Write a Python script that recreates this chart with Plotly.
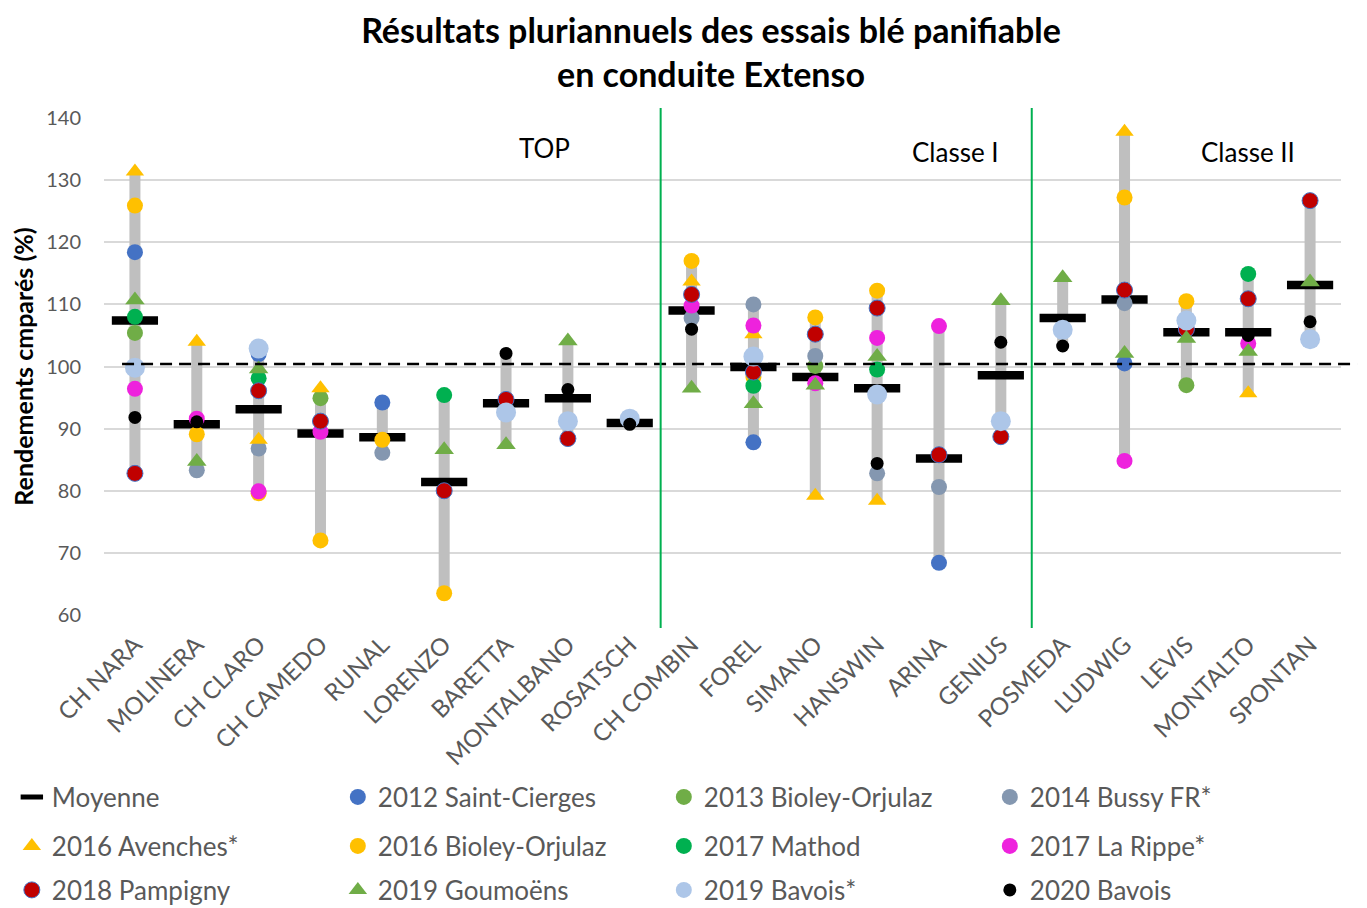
import plotly.graph_objects as go

# ---------------- DATA ----------------
categories = ["CH NARA", "MOLINERA", "CH CLARO", "CH CAMEDO", "RUNAL", "LORENZO",
              "BARETTA", "MONTALBANO", "ROSATSCH", "CH COMBIN", "FOREL", "SIMANO",
              "HANSWIN", "ARINA", "GENIUS", "POSMEDA", "LUDWIG", "LEVIS", "MONTALTO",
              "SPONTAN"]
N = None
moyenne = [107.4, 90.7, 93.1, 89.2, 88.6, 81.4, 94.1, 94.9, 90.9, 109.0,
           99.9, 98.3, 96.5, 85.2, 98.6, 107.8, 110.8, 105.5, 105.5, 113.1]
y2012_saint_cierges = [118.4, N, 102.0, N, 94.2, N, N, N, N, N,
                       87.8, N, N, 68.4, N, N, 100.5, N, N, N]
y2013_bioley = [105.4, N, N, 94.9, N, N, N, N, N, N,
                N, 100.1, N, N, N, N, N, 97.0, N, N]
y2014_bussy = [N, 83.3, 86.8, N, 86.1, N, N, N, N, 107.8,
               110.0, 101.7, 82.8, 80.6, N, N, 110.2, N, N, N]
y2016_avenches = [131.4, 104.0, 88.2, 96.5, N, N, N, N, N, 113.7,
                  105.2, 79.2, 78.4, N, N, N, 137.8, N, 95.7, N]
y2016_bioley = [125.9, 89.1, 79.6, 72.0, 88.2, 63.5, N, N, N, 117.0,
                98.3, 107.9, 112.2, N, N, N, 127.2, 110.5, N, N]
y2017_mathod = [108.0, N, 98.1, N, N, 95.4, N, N, N, N,
                96.9, N, 99.5, N, N, N, N, N, 114.9, N]
y2017_la_rippe = [96.4, 91.6, 79.9, 89.5, N, N, N, N, N, 109.8,
                  106.6, 97.3, 104.6, 106.5, N, N, 84.8, 106.0, 103.7, N]
y2018_pampigny = [82.8, N, 96.1, 91.2, N, 80.0, 94.7, 88.4, N, 111.6,
                  99.1, 105.2, 109.4, 85.8, 88.7, N, 112.3, 106.0, 110.9, 126.7]
y2019_goumoens = [110.7, 84.7, 99.6, N, N, 86.6, 87.4, 104.1, N, 96.5,
                  94.0, 97.0, 101.6, N, 110.6, 114.3, 102.1, 104.5, 102.4, 113.6]
y2019_bavois = [99.8, N, 102.9, N, N, N, 92.6, 91.2, 91.6, N,
                101.6, N, 95.5, N, 91.2, 105.9, N, 107.4, N, 104.4]
y2020_bavois = [91.8, 91.1, N, N, N, N, 102.1, 96.3, 90.7, 106.0,
                N, N, 84.4, N, 103.9, 103.3, N, N, 105.0, 107.2]
reference_line = 100.4
section_labels = ["TOP", "Classe I", "Classe II"]
section_label_pos = [6.63, 13.27, 18.0]
section_label_y = [135.2, 134.5, 134.5]
section_bounds = [8.5, 14.5]

# ---------------- STYLE ----------------
FONT = "Lato"
GREY_TXT = "#595959"

series = [
    ("2012 Saint-Cierges", y2012_saint_cierges, "#4472C4", "circle", 16, None, "legend"),
    ("2013 Bioley-Orjulaz", y2013_bioley, "#70AD47", "circle", 16, None, "legend"),
    ("2014 Bussy FR*", y2014_bussy, "#8497B0", "circle", 16, None, "legend"),
    ("2016 Avenches*", y2016_avenches, "#FFC000", "triangle-up", 16, None, "legend2"),
    ("2016 Bioley-Orjulaz", y2016_bioley, "#FFC000", "circle", 16, None, "legend2"),
    ("2017 Mathod", y2017_mathod, "#00B050", "circle", 16, None, "legend2"),
    ("2017 La Rippe*", y2017_la_rippe, "#EE22DD", "circle", 16, None, "legend2"),
    ("2018 Pampigny", y2018_pampigny, "#C00000", "circle", 16, "#4472C4", "legend3"),
    ("2019 Goumoëns", y2019_goumoens, "#70AD47", "triangle-up", 17, None, "legend3"),
    ("2019 Bavois*", y2019_bavois, "#ADC6E8", "circle", 20, None, "legend3"),
    ("2020 Bavois", y2020_bavois, "#000000", "circle", 13, None, "legend3"),
]

fig = go.Figure()

# grey range bars (min to max of all values per variety)
bx, by = [], []
for i, c in enumerate(categories):
    vals = [s[1][i] for s in series if s[1][i] is not None] + [moyenne[i]]
    bx += [c, c, None]
    by += [min(vals), max(vals), None]
fig.add_trace(go.Scatter(x=bx, y=by, mode="lines", line=dict(color="#BFBFBF", width=11),
                         showlegend=False, hoverinfo="skip"))

# mean
fig.add_trace(go.Scatter(x=categories, y=moyenne, mode="markers", name="Moyenne",
                         marker=dict(symbol="line-ew", size=33,
                                     line=dict(color="#000000", width=8.5)),
                         legend="legend"))

for name, vals, color, symbol, size, outline, lg in series:
    mk = dict(color=color, symbol=symbol, size=size)
    if outline:
        mk["line"] = dict(color=outline, width=1)
    else:
        mk["line"] = dict(width=0)
    fig.add_trace(go.Scatter(x=categories, y=vals, mode="markers", name=name,
                             marker=mk, legend=lg))

# dashed reference line
fig.add_shape(type="line", xref="paper", yref="y", x0=0.0146, x1=1.013,
              y0=reference_line, y1=reference_line,
              line=dict(color="black", width=2.5, dash="12px,7px"), layer="above")

# section separators
for xb in section_bounds:
    fig.add_shape(type="line", xref="x", yref="paper", x0=xb, x1=xb, y0=-0.026, y1=1.02,
                  line=dict(color="#00B050", width=2), layer="above")

for txt, xp, yp in zip(section_labels, section_label_pos, section_label_y):
    fig.add_annotation(x=xp, y=yp, xref="x", yref="y", text=txt, showarrow=False,
                       font=dict(family=FONT, size=26, color="black"))

legend_common = dict(orientation="h", xref="paper", yref="paper", x=-0.0745,
                     xanchor="left", yanchor="middle", entrywidth=281,
                     entrywidthmode="pixels", bgcolor="rgba(0,0,0,0)",
                     font=dict(family=FONT, size=26, color=GREY_TXT))

fig.update_layout(
    width=1359, height=900,
    margin=dict(l=96, r=26, t=110, b=293, autoexpand=False),
    paper_bgcolor="white", plot_bgcolor="white",
    title=dict(text="<b>Résultats pluriannuels des essais blé panifiable<br>en conduite Extenso</b>",
               x=0.5173, xanchor="center", y=0.961, yanchor="middle", yref="container",
               font=dict(family=FONT, size=34, color="black")),
    font=dict(family=FONT, color=GREY_TXT),
    xaxis=dict(type="category", categoryorder="array", categoryarray=categories,
               range=[-0.5, 19.5], showgrid=False, showline=False, zeroline=False,
               tickangle=-45, tickfont=dict(family=FONT, size=24, color=GREY_TXT),
               ticks="", ticklabelstandoff=10, automargin=False),
    yaxis=dict(range=[60, 140], dtick=10, tick0=60, showgrid=True, gridcolor="#D9D9D9",
               gridwidth=1.5, zeroline=False, showline=False, automargin=False,
               tickfont=dict(family=FONT, size=20, color=GREY_TXT), ticklabelstandoff=22,
               title=dict(text="<b>Rendements cmparés (%)</b>",
                          font=dict(family=FONT, size=25, color="black"), standoff=9)),
    legend=dict(legend_common, y=(615 - 797) / 497),
    legend2=dict(legend_common, y=(615 - 846) / 497),
    legend3=dict(legend_common, y=(615 - 890) / 497),
)

fig.write_html("out.html")
